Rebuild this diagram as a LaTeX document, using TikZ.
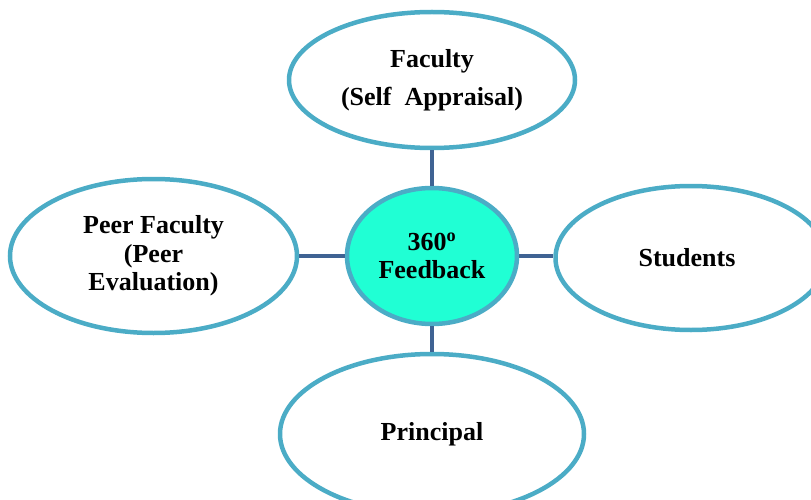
\documentclass[tikz,border=0pt]{standalone}
\usepackage{fontspec}
\setmainfont{Liberation Serif}
\usetikzlibrary{shapes.geometric}
\definecolor{rim}{HTML}{4BACC6}
\definecolor{link}{HTML}{3F6393}
\definecolor{hub}{HTML}{20FFD4}
\tikzset{
  oval/.style={ellipse, draw=rim, line width=4.5pt, fill=white, inner sep=0pt,
    align=center, font=\fontsize{26}{28.5}\selectfont\bfseries},
  linkline/.style={draw=link, line width=4pt}
}
\begin{document}
\begin{tikzpicture}[x=1pt,y=-1pt]
\useasboundingbox (0,0) rectangle (811,500);
\clip (0,0) rectangle (811,500);
\node[oval, minimum width=286pt, minimum height=136pt] (fac) at (432,80)
  {\raisebox{-2pt}{Faculty}\\[9.5pt]\raisebox{-2pt}{(Self\ \ Appraisal)}};
\node[oval, minimum width=170pt, minimum height=136pt, fill=hub] (hub) at (432,256)
  {360\textsuperscript{o}\\Feedback};
\node[oval, minimum width=287pt, minimum height=154pt] (peer) at (153.5,256)
  {Peer Faculty\\(Peer\\Evaluation)};
\node[oval, minimum width=271pt, minimum height=144pt] (stu) at (691,258)
  {\hspace*{-8pt}Students};
\node[oval, minimum width=304pt, minimum height=160pt] (pri) at (432,434)
  {\raisebox{3pt}{Principal}};
\draw[linkline] (fac.south) -- (hub.north);
\draw[linkline] (hub.south) -- (pri.north);
\draw[linkline] (hub.west) -- (hub.west -| peer.east);
\draw[linkline] (hub.east) -- (hub.east -| stu.west);
\end{tikzpicture}
\end{document}
